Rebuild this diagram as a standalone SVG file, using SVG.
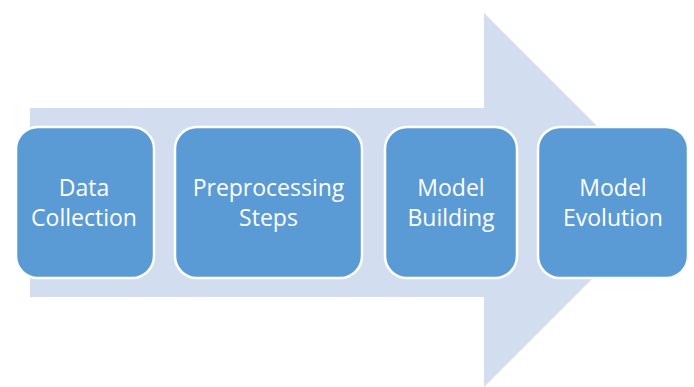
<svg xmlns="http://www.w3.org/2000/svg" width="694" height="387" viewBox="0 0 694 387">
  <style>
    .step rect { fill: #5B9BD5; stroke: #FFFFFF; stroke-width: 2.5; }
    .step text { fill: #FFFFFF; font-family: "Open Sans", "Liberation Sans", sans-serif; font-size: 23px; text-anchor: middle; }
  </style>
  <rect width="694" height="387" fill="#FFFFFF"/>
  <!-- background process arrow -->
  <g id="connectors">
    <path d="M30,108 H484 V13 L671,200 L484,387 V297 H30 Z" fill="#D2DEEF"/>
  </g>
  <g id="step-data-collection" class="step">
    <rect x="16" y="127" width="138" height="151" rx="22"/>
    <text x="84" y="196">Data</text>
    <text x="84" y="226">Collection</text>
  </g>
  <g id="step-preprocessing" class="step">
    <rect x="175" y="127" width="187" height="151" rx="22"/>
    <text x="268.5" y="196">Preprocessing</text>
    <text x="268.5" y="226">Steps</text>
  </g>
  <g id="step-model-building" class="step">
    <rect x="385" y="127" width="132" height="151" rx="22"/>
    <text x="451" y="196">Model</text>
    <text x="451" y="226">Building</text>
  </g>
  <g id="step-model-evolution" class="step">
    <rect x="538" y="127" width="150" height="151" rx="22"/>
    <text x="613" y="196">Model</text>
    <text x="613" y="226">Evolution</text>
  </g>
</svg>
